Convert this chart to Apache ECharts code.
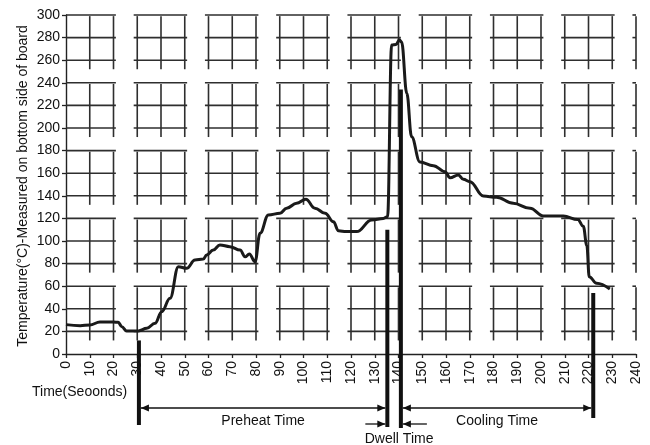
<!DOCTYPE html>
<html>
<head>
<meta charset="utf-8">
<script src="https://cdn.jsdelivr.net/npm/echarts@6/dist/echarts.min.js"></script>
<style>
html,body{margin:0;padding:0;background:#fff;}
#chart{width:650px;height:445px;}
</style>
</head>
<body>
<div id="chart"></div>
<script>
// ---- data ----
const timeSec = [0, 6, 10, 14.3, 20, 22, 23.5, 25.5, 30.5, 34, 37.5, 40.3, 43.8, 47.3, 50.8, 54.3, 57.8, 59.2, 62, 64.8, 69, 73.3, 75.4, 77.2, 79.6, 81.7, 85.2, 90.1, 92.9, 97.1, 101, 104.8, 109.1, 112.6, 114.7, 118, 122.4, 128.7, 133.6, 135.4, 137.1, 139, 140.4, 141.3, 143.5, 145.5, 149, 154.7, 159.6, 161.7, 165.2, 167.3, 170.1, 175.7, 181.3, 188.3, 195.4, 201, 209.4, 215.5, 217.8, 219.3, 220.3, 223.4, 229];
const tempC   = [26, 25, 25.7, 28.3, 28.3, 28, 24.2, 20.4, 20.4, 22.7, 27.2, 37.5, 49.3, 77.3, 75.8, 83.2, 84, 87.6, 92, 96.5, 95, 92, 86, 88.5, 81.7, 106.8, 123, 124.5, 129, 133.4, 136.9, 129, 124.5, 117, 109.1, 108.3, 108.3, 118.6, 120, 121.5, 273.5, 274, 278, 276, 230.7, 192.3, 170, 166.7, 161.3, 156, 158.4, 154.6, 152.5, 139.8, 138.7, 133.4, 128.9, 122.1, 122.1, 119, 113, 96, 68.4, 62.6, 57.5];

// phase boundary markers (time, temperature at top of marker)
const markerTime = [30.7, 135.3, 141, 222];
const markerTop  = [12, 110, 234, 54];
const phaseNames = ['Preheat Time', 'Dwell Time', 'Cooling Time'];

const xAxisName = 'Time(Seoonds)';
const yAxisName = 'Temperature(°C)-Measured on bottom side of board';

// ---- layout / style constants ----
const markerDrop = [71, 73, 74, 64];   // px below the x axis
const FONT = "'Liberation Sans', Arial, sans-serif";
const INK = '#111';

const chart = echarts.init(document.getElementById('chart'), null, {renderer: 'canvas'});

function gridRender(params, api) {
  const children = [];
  const style = {stroke: '#2e2e2e', lineWidth: 1.6};
  for (let j = 0; j * 30 <= 240; j++) {
    const x0 = Math.max(0, j * 30 - 1.5), x1 = Math.min(240, j * 30 + 21);
    for (let k = 1; k <= 5; k++) {
      [60 * k, 60 * k - 20, 60 * k - 40].forEach(T => {
        const a = api.coord([x0, T]), b = api.coord([x1, T]);
        children.push({type: 'line', shape: {x1: a[0], y1: a[1], x2: b[0], y2: b[1]}, style});
      });
      [j * 30, j * 30 + 10, j * 30 + 20].forEach(t => {
        if (t <= 0 || t > 240) return;
        const a = api.coord([t, 60 * k - 1]), b = api.coord([t, 60 * k - 48]);
        children.push({type: 'line', shape: {x1: a[0], y1: a[1], x2: b[0], y2: b[1]}, style});
      });
    }
  }
  return {type: 'group', children};
}

function head(x, y, dir) {
  return {type: 'polygon', shape: {points: [[x, y], [x - dir * 8, y - 3.5], [x - dir * 8, y + 3.5]]}, style: {fill: INK}};
}
function hline(xa, xb, y) {
  return {type: 'line', shape: {x1: xa, y1: y, x2: xb, y2: y}, style: {stroke: INK, lineWidth: 1.3}};
}
function label(text, x, y) {
  return {type: 'text', style: {text, x, y, fill: INK, font: '14px ' + FONT, textAlign: 'center', textVerticalAlign: 'middle'}};
}

function annotRender(params, api) {
  const axisY = api.coord([0, 0])[1];
  const ch = [];
  const xs = markerTime.map(t => api.coord([t, 0])[0]);
  markerTime.forEach((t, i) => {
    const top = api.coord([t, markerTop[i]]);
    ch.push({type: 'line', shape: {x1: top[0], y1: top[1], x2: top[0], y2: axisY + markerDrop[i]}, style: {stroke: INK, lineWidth: 4}});
  });
  const yArrow = axisY + 54;
  ch.push(hline(xs[0] + 2, xs[1] - 2, yArrow), head(xs[0] + 2, yArrow, -1), head(xs[1] - 2, yArrow, 1));
  ch.push(label(phaseNames[0], (xs[0] + xs[1]) / 2, axisY + 67));
  ch.push(hline(xs[2] + 2, xs[3] - 2, yArrow), head(xs[2] + 2, yArrow, -1), head(xs[3] - 2, yArrow, 1));
  ch.push(label(phaseNames[2], (xs[2] + xs[3]) / 2, axisY + 67));
  const yD = axisY + 70;
  ch.push(hline(xs[1] - 22, xs[1] - 2, yD), head(xs[1] - 2, yD, 1));
  ch.push(hline(xs[2] + 2, xs[2] + 26, yD), head(xs[2] + 2, yD, -1));
  ch.push(label(phaseNames[1], (xs[1] + xs[2]) / 2 + 5, axisY + 85));
  return {type: 'group', children: ch};
}

const option = {
  animation: false,
  backgroundColor: '#fff',
  textStyle: {fontFamily: FONT},
  grid: {left: 66, right: 14, top: 15, bottom: 91, containLabel: false},
  xAxis: {
    type: 'value', min: 0, max: 240, interval: 10,
    axisLine: {show: true, lineStyle: {color: '#222', width: 1.4}},
    axisTick: {show: true, length: 4, lineStyle: {color: '#222', width: 1.3}},
    axisLabel: {rotate: 90, margin: 7, fontSize: 14, color: INK, fontFamily: FONT},
    splitLine: {show: false}
  },
  yAxis: {
    type: 'value', min: 0, max: 300, interval: 20,
    axisLine: {show: true, lineStyle: {color: '#222', width: 1.4}},
    axisTick: {show: true, length: 4, lineStyle: {color: '#222', width: 1.3}},
    axisLabel: {margin: 6, fontSize: 14, color: INK, fontFamily: FONT},
    splitLine: {show: false}
  },
  graphic: [
    {
      type: 'text', left: 32, top: 385,
      style: {text: xAxisName, fill: INK, font: '14px ' + FONT}
    },
    {
      type: 'text', x: 23, y: 186, rotation: Math.PI / 2,
      style: {text: yAxisName, fill: INK, font: '14px ' + FONT, textAlign: 'center', textVerticalAlign: 'middle'}
    }
  ],
  series: [
    {type: 'custom', renderItem: gridRender, data: [[0, 0]], silent: true, z: 1},
    {
      type: 'line', data: timeSec.map((t, i) => [t, tempC[i]]),
      showSymbol: false, symbol: 'none', smooth: 0.4, smoothMonotone: 'x',
      lineStyle: {color: '#1a1a1a', width: 3}, z: 3, silent: true
    },
    {type: 'custom', renderItem: annotRender, data: [[0, 0]], clip: false, silent: true, z: 4}
  ]
};
chart.setOption(option);
</script>
</body>
</html>
